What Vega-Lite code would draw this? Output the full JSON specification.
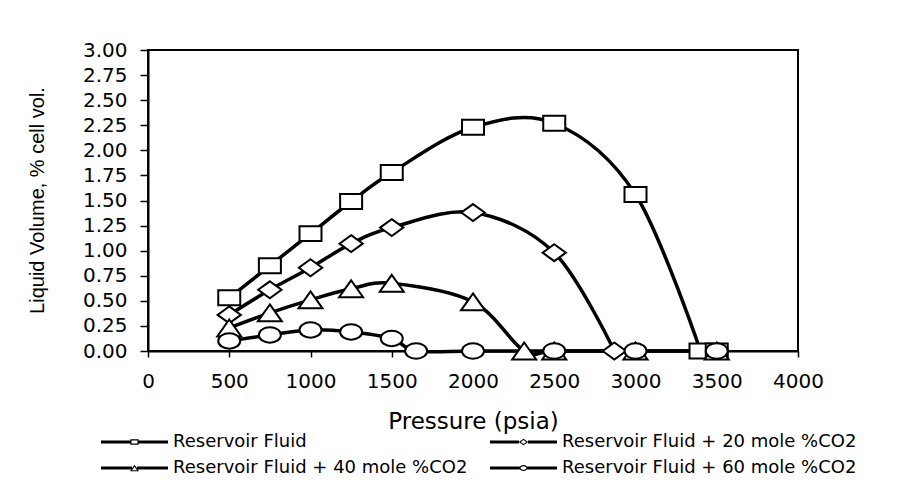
{
  "$schema": "https://vega.github.io/schema/vega-lite/v6.json",
  "width": 650,
  "height": 301,
  "autosize": {"type": "none"},
  "padding": {"left": 148, "top": 50, "right": 117, "bottom": 150},
  "background": "white",
  "data": {"values": [
    {"s": "Reservoir Fluid", "p": 500, "v": 0.53},
    {"s": "Reservoir Fluid", "p": 750, "v": 0.85},
    {"s": "Reservoir Fluid", "p": 1000, "v": 1.17},
    {"s": "Reservoir Fluid", "p": 1250, "v": 1.49},
    {"s": "Reservoir Fluid", "p": 1500, "v": 1.78},
    {"s": "Reservoir Fluid", "p": 2000, "v": 2.23},
    {"s": "Reservoir Fluid", "p": 2500, "v": 2.27},
    {"s": "Reservoir Fluid", "p": 3000, "v": 1.56},
    {"s": "Reservoir Fluid", "p": 3400, "v": 0},
    {"s": "Reservoir Fluid", "p": 3500, "v": 0},
    {"s": "Reservoir Fluid + 20 mole %CO2", "p": 500, "v": 0.36},
    {"s": "Reservoir Fluid + 20 mole %CO2", "p": 750, "v": 0.61},
    {"s": "Reservoir Fluid + 20 mole %CO2", "p": 1000, "v": 0.83},
    {"s": "Reservoir Fluid + 20 mole %CO2", "p": 1250, "v": 1.07},
    {"s": "Reservoir Fluid + 20 mole %CO2", "p": 1500, "v": 1.23},
    {"s": "Reservoir Fluid + 20 mole %CO2", "p": 2000, "v": 1.38},
    {"s": "Reservoir Fluid + 20 mole %CO2", "p": 2500, "v": 0.98},
    {"s": "Reservoir Fluid + 20 mole %CO2", "p": 2870, "v": 0},
    {"s": "Reservoir Fluid + 40 mole %CO2", "p": 500, "v": 0.23},
    {"s": "Reservoir Fluid + 40 mole %CO2", "p": 750, "v": 0.38},
    {"s": "Reservoir Fluid + 40 mole %CO2", "p": 1000, "v": 0.51},
    {"s": "Reservoir Fluid + 40 mole %CO2", "p": 1250, "v": 0.62},
    {"s": "Reservoir Fluid + 40 mole %CO2", "p": 1500, "v": 0.675},
    {"s": "Reservoir Fluid + 40 mole %CO2", "p": 2000, "v": 0.49},
    {"s": "Reservoir Fluid + 40 mole %CO2", "p": 2315, "v": 0},
    {"s": "Reservoir Fluid + 40 mole %CO2", "p": 2500, "v": 0},
    {"s": "Reservoir Fluid + 40 mole %CO2", "p": 3000, "v": 0},
    {"s": "Reservoir Fluid + 40 mole %CO2", "p": 3500, "v": 0},
    {"s": "Reservoir Fluid + 60 mole %CO2", "p": 500, "v": 0.10},
    {"s": "Reservoir Fluid + 60 mole %CO2", "p": 750, "v": 0.16},
    {"s": "Reservoir Fluid + 60 mole %CO2", "p": 1000, "v": 0.21},
    {"s": "Reservoir Fluid + 60 mole %CO2", "p": 1250, "v": 0.19},
    {"s": "Reservoir Fluid + 60 mole %CO2", "p": 1500, "v": 0.125},
    {"s": "Reservoir Fluid + 60 mole %CO2", "p": 1650, "v": 0},
    {"s": "Reservoir Fluid + 60 mole %CO2", "p": 2000, "v": 0},
    {"s": "Reservoir Fluid + 60 mole %CO2", "p": 2500, "v": 0},
    {"s": "Reservoir Fluid + 60 mole %CO2", "p": 3000, "v": 0},
    {"s": "Reservoir Fluid + 60 mole %CO2", "p": 3500, "v": 0}
  ]},
  "encoding": {
    "x": {
      "field": "p", "type": "quantitative",
      "scale": {"domain": [0, 4000], "nice": false},
      "axis": {
        "title": "Pressure (psia)",
        "values": [0, 500, 1000, 1500, 2000, 2500, 3000, 3500, 4000],
        "format": "d",
        "grid": false,
        "domainColor": "black", "domainWidth": 2,
        "tickColor": "black", "tickWidth": 1.5, "tickSize": 6,
        "labelFont": "DejaVu Sans", "labelFontSize": 20, "labelColor": "black",
        "labelBaseline": "top", "labelPadding": 14, "labelFlush": false, "labelOverlap": false,
        "titleFont": "DejaVu Sans", "titleFontSize": 23, "titleFontWeight": "normal", "titleColor": "black",
        "titleBaseline": "alphabetic", "titleAlign": "center", "titleX": 325, "titleY": 77
      }
    },
    "y": {
      "field": "v", "type": "quantitative",
      "scale": {"domain": [0, 3], "nice": false},
      "axis": {
        "title": "Liquid Volume, % cell vol.",
        "values": [0, 0.25, 0.5, 0.75, 1, 1.25, 1.5, 1.75, 2, 2.25, 2.5, 2.75, 3],
        "format": ".2f",
        "grid": false,
        "domainColor": "black", "domainWidth": 2,
        "tickColor": "black", "tickWidth": 1.5, "tickSize": 8,
        "labelFont": "DejaVu Sans", "labelFontSize": 20, "labelColor": "black",
        "labelPadding": 13, "labelFlush": false, "labelOverlap": false,
        "titleFont": "Liberation Sans", "titleFontSize": 20, "titleFontWeight": "normal", "titleColor": "black",
        "titleAngle": -90, "titleBaseline": "alphabetic", "titleAlign": "center", "titleX": -105, "titleY": 150
      }
    }
  },
  "layer": [
    {
      "transform": [{"filter": "!(datum.s == 'Reservoir Fluid' && datum.p > 3450)"}],
      "mark": {"type": "line", "interpolate": "cardinal", "color": "black", "strokeWidth": 3.5},
      "encoding": {"detail": {"field": "s", "type": "nominal"}}
    },
    {
      "mark": {"type": "point", "filled": true, "fill": "white", "stroke": "black", "strokeWidth": 2, "opacity": 1, "size": 484},
      "encoding": {
        "shape": {
          "field": "s", "type": "nominal",
          "scale": {
            "domain": ["Reservoir Fluid", "Reservoir Fluid + 20 mole %CO2", "Reservoir Fluid + 40 mole %CO2", "Reservoir Fluid + 60 mole %CO2"],
            "range": [
              "M-1,-0.68H1V0.68H-1Z",
              "M0,-0.77L1.06,0L0,0.77L-1.06,0Z",
              "M0,-0.77L1.09,0.77H-1.09Z",
              "M1,0C1,0.3866 0.5523,0.7 0,0.7C-0.5523,0.7 -1,0.3866 -1,0C-1,-0.3866 -0.5523,-0.7 0,-0.7C0.5523,-0.7 1,-0.3866 1,0Z"
            ]
          },
          "legend": null
        }
      }
    },
    {
      "transform": [{"filter": "false"}],
      "mark": {"type": "point", "filled": true, "color": "black", "opacity": 1, "strokeWidth": 0, "size": 100},
      "encoding": {
        "shape": {
          "field": "s", "type": "nominal",
          "scale": {
            "domain": ["Reservoir Fluid", "Reservoir Fluid + 20 mole %CO2", "Reservoir Fluid + 40 mole %CO2", "Reservoir Fluid + 60 mole %CO2"],
            "range": [
              "M-1,-0.3H4.87V0.3H-1Z M6.53,-0.3H12.4V0.3H6.53Z M4.87,-0.55H6.53V0.55H4.87Z M5.11,-0.31V0.31H6.29V-0.31Z",
              "M-1,-0.3H4.8V0.3H-1Z M6.6,-0.3H12.4V0.3H6.6Z M5.7,-0.67L6.63,0L5.7,0.67L4.77,0Z M5.7,-0.402L5.142,0L5.7,0.402L6.258,0Z",
              "M-1,-0.3H5.2V0.3H-1Z M6.2,-0.3H12.4V0.3H6.2Z M5.7,-0.67L6.6,0.67H4.8Z M5.7,-0.268L5.205,0.469H6.195Z",
              "M-1,-0.3H4.9V0.3H-1Z M6.5,-0.3H12.4V0.3H6.5Z M6.53,0C6.53,0.3314 6.1584,0.6 5.7,0.6C5.2416,0.6 4.87,0.3314 4.87,0C4.87,-0.3314 5.2416,-0.6 5.7,-0.6C6.1584,-0.6 6.53,-0.3314 6.53,0Z M6.29,0C6.29,-0.1988 6.0259,-0.36 5.7,-0.36C5.3741,-0.36 5.11,-0.1988 5.11,0C5.11,0.1988 5.3741,0.36 5.7,0.36C6.0259,0.36 6.29,0.1988 6.29,0Z"
            ]
          },
          "legend": {
            "title": null,
            "orient": "none",
            "legendX": -51,
            "legendY": 383,
            "direction": "horizontal",
            "columns": 2,
            "symbolSize": 100,
            "symbolFillColor": "black",
            "symbolStrokeColor": "transparent",
            "symbolStrokeWidth": 0,
            "symbolOpacity": 1,
            "labelOffset": 58,
            "labelFont": "DejaVu Sans",
            "labelFontSize": 18,
            "labelColor": "black",
            "labelLimit": 600,
            "columnPadding": 18,
            "rowPadding": 8,
            "padding": 0
          }
        }
      }
    }
  ],
  "resolve": {"scale": {"shape": "independent"}},
  "config": {
    "view": {"stroke": "black", "strokeWidth": 2},
    "font": "DejaVu Sans"
  }
}
